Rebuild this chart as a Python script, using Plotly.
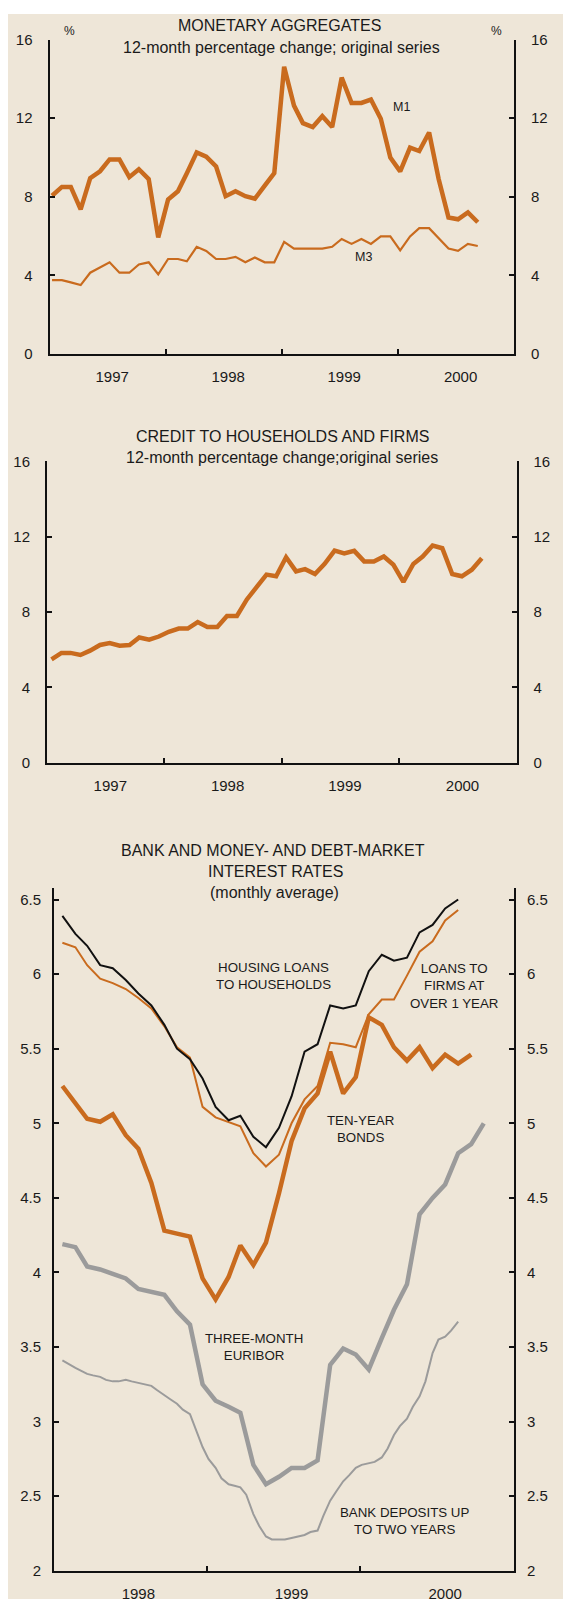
import pandas as pd
import plotly.graph_objects as go

W, H = 563, 1607

# ---------------- data ----------------
# Panel 1: monetary aggregates, 12-month % change, monthly from Jan 1997
m1 = [8.05, 8.5, 8.5, 7.36, 8.95, 9.3, 9.9, 9.9, 9.0, 9.4, 8.9, 5.93,
      7.86, 8.28, 9.2, 10.26, 10.04, 9.54, 8.03, 8.28, 8.03, 7.9, 8.57, 9.2,
      14.62, 12.64, 11.75, 11.55, 12.1, 11.55, 14.07, 12.78, 12.78, 12.95, 11.97, 10.0,
      9.29, 10.5, 10.33, 11.27, 8.9, 6.94, 6.85, 7.2, 6.7]
m3 = [3.75, 3.75, 3.64, 3.5, 4.13, 4.38, 4.66, 4.13, 4.13, 4.55, 4.66, 4.05,
      4.83, 4.83, 4.71, 5.45, 5.24, 4.83, 4.83, 4.94, 4.66, 4.91, 4.66, 4.66,
      5.7, 5.36, 5.36, 5.36, 5.36, 5.45, 5.85, 5.6, 5.85, 5.6, 5.98, 5.98,
      5.27, 5.98, 6.4, 6.4, 5.9, 5.36, 5.24, 5.6, 5.49]

# Panel 2: credit to households and firms, monthly from Jan 1997
credit = [5.48, 5.83, 5.83, 5.72, 5.95, 6.25, 6.35, 6.21, 6.25, 6.65, 6.53, 6.7,
          6.95, 7.12, 7.12, 7.47, 7.21, 7.21, 7.79, 7.79, 8.67, 9.28, 9.99, 9.9,
          10.91, 10.16, 10.28, 10.02, 10.56, 11.26, 11.12, 11.25, 10.69, 10.69, 10.95, 10.51,
          9.6, 10.56, 10.95, 11.53, 11.39, 10.02, 9.9, 10.25, 10.86]

# Panel 3: interest rates, monthly from Jan 1998
housing_loans = [6.39, 6.27, 6.19, 6.06, 6.04, 5.96, 5.87, 5.79, 5.66, 5.5, 5.43, 5.3,
                 5.11, 5.02, 5.05, 4.91, 4.84, 4.97, 5.18, 5.48, 5.53, 5.79, 5.77, 5.79,
                 6.02, 6.13, 6.09, 6.11, 6.28, 6.33, 6.44, 6.5]
firm_loans = [6.21, 6.18, 6.06, 5.97, 5.94, 5.9, 5.84, 5.77, 5.65, 5.51, 5.44, 5.11,
              5.04, 5.01, 4.98, 4.8, 4.71, 4.79, 5.0, 5.16, 5.25, 5.54, 5.53, 5.51,
              5.73, 5.83, 5.83, 5.99, 6.15, 6.22, 6.36, 6.43]
ten_year = [5.25, 5.13, 5.03, 5.01, 5.06, 4.92, 4.83, 4.6, 4.28, 4.26, 4.24, 3.96,
            3.82, 3.97, 4.18, 4.05, 4.2, 4.53, 4.88, 5.1, 5.2, 5.48, 5.2, 5.31,
            5.71, 5.66, 5.51, 5.42, 5.51, 5.37, 5.46, 5.4, 5.46]
euribor = [4.19, 4.17, 4.04, 4.02, 3.99, 3.96, 3.89, 3.87, 3.85, 3.74, 3.65, 3.25,
           3.14, 3.1, 3.06, 2.71, 2.58, 2.63, 2.69, 2.69, 2.74, 3.38, 3.49, 3.45,
           3.35, 3.56, 3.75, 3.92, 4.39, 4.5, 4.59, 4.8, 4.86, 5.0]
# bank deposits up to two years, semi-monthly from mid-Jan 1998
deposits = [3.41, 3.385, 3.36, 3.34, 3.32, 3.31, 3.30, 3.28, 3.27, 3.27, 3.28, 3.27,
            3.26, 3.25, 3.24, 3.21, 3.18, 3.15, 3.12, 3.08, 3.05, 2.95, 2.83, 2.75,
            2.69, 2.62, 2.58, 2.57, 2.56, 2.51, 2.38, 2.30, 2.23, 2.21, 2.21, 2.21,
            2.22, 2.23, 2.24, 2.26, 2.27, 2.37, 2.47, 2.53, 2.60, 2.64, 2.69, 2.71,
            2.72, 2.73, 2.76, 2.82, 2.91, 2.97, 3.02, 3.10, 3.17, 3.27, 3.46, 3.55,
            3.57, 3.61, 3.67]

years_p12 = ["1997", "1998", "1999", "2000"]
years_p3 = ["1998", "1999", "2000"]
pct_ticks = [0, 4, 8, 12, 16]
rate_ticks = [2, 2.5, 3, 3.5, 4, 4.5, 5, 5.5, 6, 6.5]
rate_ticktext = ["2", "2.5", "3", "3.5", "4", "4.5", "5", "5.5", "6", "6.5"]

# ---------------- dates ----------------
x_p1 = pd.date_range("1997-01-01", periods=len(m1), freq="MS") + pd.Timedelta(days=8)
x_p2 = pd.date_range("1997-01-01", periods=len(credit), freq="MS") + pd.Timedelta(days=14)
x_p3 = pd.date_range("1998-01-01", periods=len(euribor), freq="MS") + pd.Timedelta(days=20)
x_dep = pd.date_range("1998-01-01", periods=len(deposits), freq="SMS") + pd.Timedelta(days=20)

ORANGE = "#C96B1E"
GRAY = "#9B9B9B"
BLACK = "#111111"
BEIGE = "#EEE6D8"
TXT = "#1a1a1a"
FONT = "Liberation Sans, Arial, sans-serif"


def px_x(p):
    return p / W


def px_y(p):
    return 1 - p / H


fig = go.Figure()


def line(x, y, xa, ya, color, width):
    fig.add_trace(go.Scatter(x=x, y=y, mode="lines", line=dict(color=color, width=width),
                             xaxis=xa, yaxis=ya, hoverinfo="skip", showlegend=False))


def ghost(x, y, xa, ya):
    # invisible copy so that the right-hand mirror axis is drawn
    fig.add_trace(go.Scatter(x=x, y=y, mode="lines", line=dict(width=0), opacity=0,
                             xaxis=xa, yaxis=ya, hoverinfo="skip", showlegend=False))


# panel 1
line(x_p1, m1, "x", "y", ORANGE, 4.5)
line(x_p1, m3, "x", "y", ORANGE, 2.2)
ghost(x_p1, m3, "x", "y2")
# panel 2
line(x_p2, credit, "x2", "y3", ORANGE, 4.5)
ghost(x_p2, credit, "x2", "y4")
# panel 3
line(x_dep, deposits, "x3", "y5", GRAY, 2)
line(x_p3[:len(euribor)], euribor, "x3", "y5", GRAY, 4.5)
line(x_p3[:len(ten_year)], ten_year, "x3", "y5", ORANGE, 4.5)
line(x_p3[:len(firm_loans)], firm_loans, "x3", "y5", ORANGE, 2)
line(x_p3[:len(housing_loans)], housing_loans, "x3", "y5", BLACK, 2)
ghost(x_p3[:len(euribor)], euribor, "x3", "y6")

tickfont = dict(family=FONT, size=15, color=TXT)


def xaxis(domain, anchor, rng, labels, label_day, bounds):
    return dict(domain=[px_x(domain[0]), px_x(domain[1])], anchor=anchor, range=rng,
                type="date", showgrid=False, zeroline=False,
                showline=True, linecolor=BLACK, linewidth=2,
                tickmode="array", tickvals=[f"{y}-07-{label_day}" for y in labels],
                ticktext=labels, ticks="", tickfont=tickfont, ticklabelstandoff=8,
                minor=dict(tickmode="array", tickvals=[f"{b}-01-01" for b in bounds],
                           ticks="inside", ticklen=5, tickwidth=2, tickcolor=BLACK, showgrid=False),
                fixedrange=True)


def yaxis(domain, anchor, rng, tv, tt, side, overlay=None, standoff=12):
    d = dict(domain=[px_y(domain[1]), px_y(domain[0])], anchor=anchor, range=rng,
             showgrid=False, zeroline=False, showline=True, linecolor=BLACK, linewidth=2,
             tickmode="array", tickvals=tv, ticktext=tt, ticks="inside", ticklen=5,
             tickwidth=2, tickcolor=BLACK, tickfont=tickfont, side=side,
             ticklabelstandoff=standoff, fixedrange=True)
    if overlay:
        d["overlaying"] = overlay
    return d


pct_text = [str(v) for v in pct_ticks]

fig.update_layout(
    width=W, height=H,
    margin=dict(l=0, r=0, t=0, b=0),
    paper_bgcolor="white", plot_bgcolor="rgba(0,0,0,0)",
    hovermode=False, showlegend=False,
    font=dict(family=FONT, color=TXT),
    xaxis=xaxis((49.5, 514), "y", ["1997-01-01", "2001-01-01"], years_p12, "17", ["1998", "1999", "2000"]),
    yaxis=yaxis((31, 348.5), "x", [0, 16], pct_ticks, pct_text, "left"),
    yaxis2=yaxis((31, 348.5), "x", [0, 16], pct_ticks, pct_text, "right", overlay="y"),
    xaxis2=xaxis((47, 516.5), "y3", ["1997-01-01", "2001-01-01"], years_p12, "17", ["1998", "1999", "2000"]),
    yaxis3=yaxis((457.3, 761.7), "x2", [0, 16], pct_ticks, pct_text, "left"),
    yaxis4=yaxis((457.3, 761.7), "x2", [0, 16], pct_ticks, pct_text, "right", overlay="y3"),
    xaxis3=xaxis((54, 514), "y5", ["1998-01-01", "2001-01-01"], years_p3, "21", ["1999", "2000"]),
    yaxis5=yaxis((888, 1578.5), "x3", [2, 6.58], rate_ticks, rate_ticktext, "left", standoff=8),
    yaxis6=yaxis((888, 1578.5), "x3", [2, 6.58], rate_ticks, rate_ticktext, "right", overlay="y5", standoff=8),
)

# beige background panel
fig.add_shape(type="rect", xref="paper", yref="paper", x0=px_x(8), x1=1, y0=0, y1=px_y(5),
              fillcolor=BEIGE, line=dict(width=0), layer="below")


def label(text, xp, yp, size=13.5):
    fig.add_annotation(text=text, x=px_x(xp), y=px_y(yp), xref="paper", yref="paper",
                       showarrow=False, xanchor="center", yanchor="middle",
                       font=dict(family=FONT, size=size, color=TXT))


# titles
label("MONETARY AGGREGATES", 279, 17, 16)
label("12-month percentage change; original series", 281, 39, 16)
label("%", 69, 22, 12)
label("%", 496, 22, 12)
label("CREDIT TO HOUSEHOLDS AND FIRMS", 282, 432, 16)
label("12-month percentage change;original series", 282, 453, 16)
label("BANK AND MONEY- AND DEBT-MARKET", 273, 851, 16)
label("INTEREST RATES", 275, 872, 16)
label("(monthly average)", 274, 893, 16)

# series labels
label("M1", 401, 99, 12.5)
label("M3", 363, 251, 12.5)
label("HOUSING LOANS<br>TO HOUSEHOLDS", 273.5, 977.5, 13.3)
label("LOANS TO<br>FIRMS AT<br>OVER 1 YEAR", 453.7, 987, 13.3)
label("TEN-YEAR<br>BONDS", 360.8, 1132, 13.3)
label("THREE-MONTH<br>EURIBOR", 254, 1352.5, 13.3)
label("BANK DEPOSITS UP<br>TO TWO YEARS", 405, 1528.5, 13.3)

fig.write_html(
    "out.html",
    config={"displayModeBar": False, "staticPlot": True},
    post_script="document.body.style.margin='0';document.body.style.overflow='hidden';"
                "document.documentElement.style.overflow='hidden';",
)
